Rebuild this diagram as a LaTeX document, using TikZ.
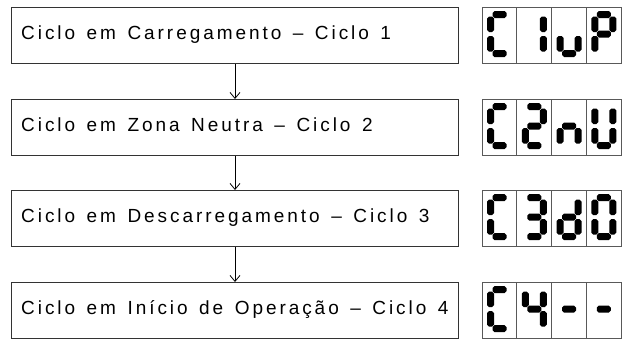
\documentclass[tikz,border=0pt]{standalone}
\usepackage{fontspec}
\setmainfont{Liberation Sans}[LetterSpace=15.5,WordSpace=1.4]
\usetikzlibrary{arrows.meta}
\tikzset{
  boxframe/.style={draw=black!80, line width=1pt, minimum width=447pt, minimum height=56pt, inner sep=0pt, anchor=north west},
  boxtext/.style={anchor=base west, inner sep=0pt, font=\fontsize{19}{22}\selectfont},
  cellframe/.style={draw=black!65, line width=1pt},
  segfill/.style={fill=black},
  flow/.style={draw=black, line width=0.8pt, -{Straight Barb[length=6pt,width=10pt,line width=0.8pt]}}
}
% horizontal segment: #1 x tip, #2 x tip, #3 y centre
\newcommand\hseg[3]{\fill[segfill] (#1,#3-1.5)--(#1+2,#3-3.5)--(#2-2,#3-3.5)--(#2,#3-1.5)--(#2,#3+1.5)--(#2-2,#3+3.5)--(#1+2,#3+3.5)--(#1,#3+1.5)--cycle;}
% vertical segment: #1 y tip, #2 y tip, #3 x centre
\newcommand\vseg[3]{\fill[segfill] (#3-1.5,#1)--(#3-3.5,#1+2)--(#3-3.5,#2-2)--(#3-1.5,#2)--(#3+1.5,#2)--(#3+3.5,#2-2)--(#3+3.5,#1+2)--(#3+1.5,#1)--cycle;}
\newcommand\sgsa{\hseg{5.5}{19.5}{3.5}}
\newcommand\sgsg{\hseg{5.5}{19.5}{23}}
\newcommand\sgsd{\hseg{5.5}{19.5}{42.5}}
\newcommand\sgsf{\vseg{5.5}{21}{3.5}}
\newcommand\sgse{\vseg{25}{40.5}{3.5}}
\newcommand\sgsb{\vseg{5.5}{21}{21.5}}
\newcommand\sgsc{\vseg{25}{40.5}{21.5}}
% #1 cell left x, #2 cell top y, #3 segment list
\newcommand\sevenseg[3]{%
  \draw[cellframe] (#1,#2) rectangle ++(34.75,56);
  \begin{scope}[shift={(#1+5,#2+4)}]
    \foreach \s in {#3} {\csname sgs\s\endcsname}
  \end{scope}
}
\begin{document}
\begin{tikzpicture}[x=1pt,y=-1pt]
\useasboundingbox (0,0) rectangle (622,338);
\fill[white] (0,0) rectangle (622,338);
% boxes
\node[boxframe] (b1) at (11,7) {};
\node[boxframe] (b2) at (11,99) {};
\node[boxframe] (b3) at (11,190) {};
\node[boxframe] (b4) at (11,282) {};
\node[boxtext] (t1) at (21,39) {Ciclo em Carregamento – Ciclo 1};
\node[boxtext] (t2) at (21,131) {Ciclo em Zona Neutra – Ciclo 2};
\node[boxtext] (t3) at (21,222) {Ciclo em Descarregamento – Ciclo 3};
\node[boxtext] (t4) at (21,314) {Ciclo em Início de Operação – Ciclo 4};
% arrows
\draw[flow] (b1.south -| 235,0) -- (b2.north -| 235,0);
\draw[flow] (b2.south -| 235,0) -- (b3.north -| 235,0);
\draw[flow] (b3.south -| 235,0) -- (b4.north -| 235,0);
% displays
\sevenseg{482}{7}{a,d,e,f}
\sevenseg{516.75}{7}{b,c}
\sevenseg{551.5}{7}{c,d,e}
\sevenseg{586.25}{7}{a,b,e,f,g}
\sevenseg{482}{99}{a,d,e,f}
\sevenseg{516.75}{99}{a,b,g,e,d}
\sevenseg{551.5}{99}{c,e,g}
\sevenseg{586.25}{99}{b,c,d,e,f}
\sevenseg{482}{190}{a,d,e,f}
\sevenseg{516.75}{190}{a,b,c,d,g}
\sevenseg{551.5}{190}{b,c,d,e,g}
\sevenseg{586.25}{190}{a,b,c,d,e,f}
\sevenseg{482}{282}{a,d,e,f}
\sevenseg{516.75}{282}{b,c,f,g}
\sevenseg{551.5}{282}{g}
\sevenseg{586.25}{282}{g}
\end{tikzpicture}
\end{document}
